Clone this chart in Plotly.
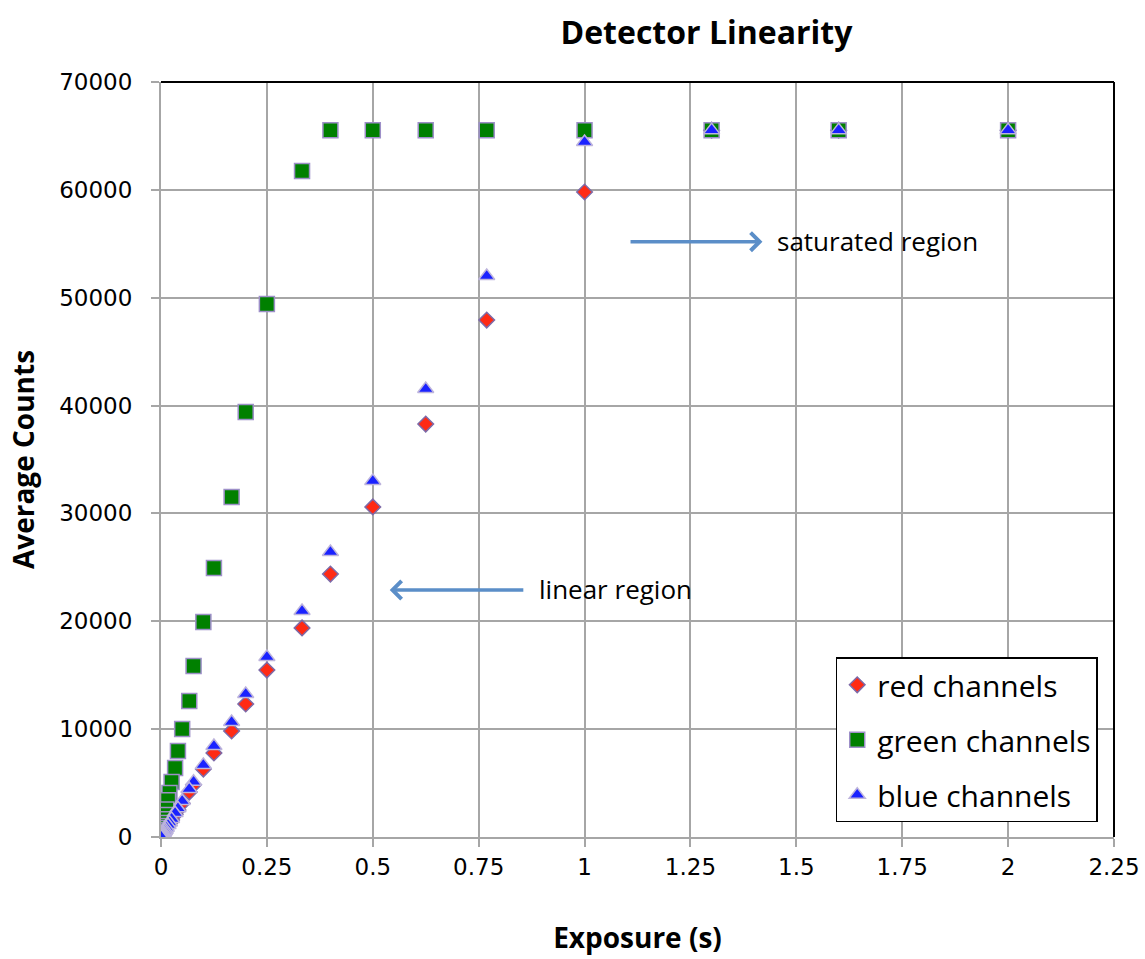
import plotly.graph_objects as go

exposure = [2, 1.6, 1.3, 1, 0.769, 0.625, 0.5, 0.4, 0.333, 0.25, 0.2, 0.1667, 0.125, 0.1,
            0.0769, 0.0667, 0.05, 0.04, 0.0333, 0.025, 0.02, 0.0167, 0.0125, 0.01, 0.008,
            0.00625, 0.005, 0.004, 0.003125, 0.0025, 0.002, 0.0015625, 0.00125, 0.001,
            0.0008, 0.000625, 0.0005, 0.0004, 0.0003125, 0.00025]

red = [65535, 65535, 65535, 59800, 47930, 38290, 30600, 24380, 19380, 15480, 12330, 9830,
       7790, 6300, 4840, 4170, 3130, 2500, 2080, 1570, 1260, 1050, 790, 630, 510, 400, 320,
       260, 205, 165, 135, 108, 88, 72, 60, 50, 42, 36, 31, 27]

green = [65535, 65535, 65535, 65535, 65535, 65535, 65535, 65535, 61750, 49420, 39400, 31520,
         24940, 19930, 15850, 12610, 10010, 7970, 6400, 5100, 4080, 3400, 2560, 2050, 1640,
         1290, 1030, 830, 650, 520, 420, 330, 265, 215, 175, 140, 115, 95, 78, 65]

blue = [65535, 65535, 65535, 64440, 52010, 41540, 33010, 26420, 20950, 16690, 13260, 10660,
        8440, 6680, 5130, 4450, 3340, 2670, 2230, 1680, 1350, 1120, 850, 680, 550, 430, 345,
        280, 220, 178, 145, 117, 95, 78, 65, 54, 45, 39, 33, 29]

x_ticks = [0, 0.25, 0.5, 0.75, 1, 1.25, 1.5, 1.75, 2, 2.25]
x_tick_text = ["0", "0.25", "0.5", "0.75", "1", "1.25", "1.5", "1.75", "2", "2.25"]
y_ticks = [0, 10000, 20000, 30000, 40000, 50000, 60000, 70000]
y_tick_text = ["0", "10000", "20000", "30000", "40000", "50000", "60000", "70000"]

TXT = "Open Sans"
TICK = "DejaVu Sans"
GRID = "#a6a6a6"
ARROW = "#5b8ec8"

fig = go.Figure()
fig.add_trace(go.Scatter(
    x=exposure, y=red, mode="markers", name="red channels", legendgroup="r",
    marker=dict(symbol="diamond", size=12, color="#ff2a14",
                line=dict(color="#7d6aa8", width=1.5))))
fig.add_trace(go.Scatter(
    x=exposure, y=green, mode="markers", name="green channels", legendgroup="g",
    marker=dict(symbol="square", size=15, color="#008000",
                line=dict(color="#9d8fc8", width=1.5))))
fig.add_trace(go.Scatter(
    x=exposure, y=blue, mode="markers", name="blue channels", legendgroup="b",
    marker=dict(symbol="triangle-up", size=14, color="#1a22ff",
                line=dict(color="#bdb4dc", width=1.5))))

fig.update_layout(
    width=1145, height=959,
    margin=dict(l=161, r=31, t=82, b=122),
    paper_bgcolor="white", plot_bgcolor="white",
    title=dict(text="<b>Detector Linearity</b>", x=0.617, xanchor="center",
               y=0.966, yanchor="middle", font=dict(family=TXT, size=32, color="black")),
    xaxis=dict(range=[0, 2.25], tickvals=x_ticks, ticktext=x_tick_text,
               automargin=False,
               showgrid=True, gridcolor=GRID, gridwidth=1.5,
               showline=True, linecolor=GRID, linewidth=2,
               ticks="outside", ticklen=8, tickcolor=GRID, tickwidth=1.5,
               tickfont=dict(family=TICK, size=23, color="black"),
               zeroline=False,
               title=dict(text="<b>Exposure (s)</b>", standoff=50,
                          font=dict(family=TXT, size=28, color="black"))),
    yaxis=dict(range=[0, 70000], tickvals=y_ticks, ticktext=y_tick_text,
               automargin=False,
               showgrid=True, gridcolor=GRID, gridwidth=1.5,
               showline=True, linecolor=GRID, linewidth=2,
               ticks="outside", ticklen=8, tickcolor=GRID, tickwidth=1.5,
               ticklabelstandoff=14,
               tickfont=dict(family=TICK, size=23, color="black"),
               zeroline=False,
               title=dict(text="<b>Average Counts</b>", standoff=16,
                          font=dict(family=TXT, size=28, color="black"))),
    legend=dict(x=0.708, y=0.238, xanchor="left", yanchor="top",
                bgcolor="white", bordercolor="black", borderwidth=1.5,
                font=dict(family=TXT, size=30, color="black"),
                traceorder="grouped", tracegroupgap=13),
    showlegend=True,
)

# black frame on top and right
fig.add_shape(type="line", xref="paper", yref="paper", x0=0, x1=1, y0=1, y1=1,
              line=dict(color="black", width=2))
fig.add_shape(type="line", xref="paper", yref="paper", x0=1, x1=1, y0=0, y1=1,
              line=dict(color="black", width=2))

fig.add_annotation(x=1.42, y=55200, ax=1.105, ay=55200, xref="x", yref="y",
                   axref="x", ayref="y", showarrow=True, arrowhead=4, arrowsize=1,
                   arrowwidth=3.5, arrowcolor=ARROW, text="")
fig.add_annotation(x=1.45, y=55300, xref="x", yref="y", showarrow=False,
                   text="saturated region", xanchor="left", yanchor="middle",
                   font=dict(family=TXT, size=26, color="black"))
fig.add_annotation(x=0.54, y=22900, ax=0.859, ay=22900, xref="x", yref="y",
                   axref="x", ayref="y", showarrow=True, arrowhead=4, arrowsize=1,
                   arrowwidth=3.5, arrowcolor=ARROW, text="")
fig.add_annotation(x=0.887, y=23000, xref="x", yref="y", showarrow=False,
                   text="linear region", xanchor="left", yanchor="middle",
                   font=dict(family=TXT, size=26, color="black"))

fig.write_html("out.html")
